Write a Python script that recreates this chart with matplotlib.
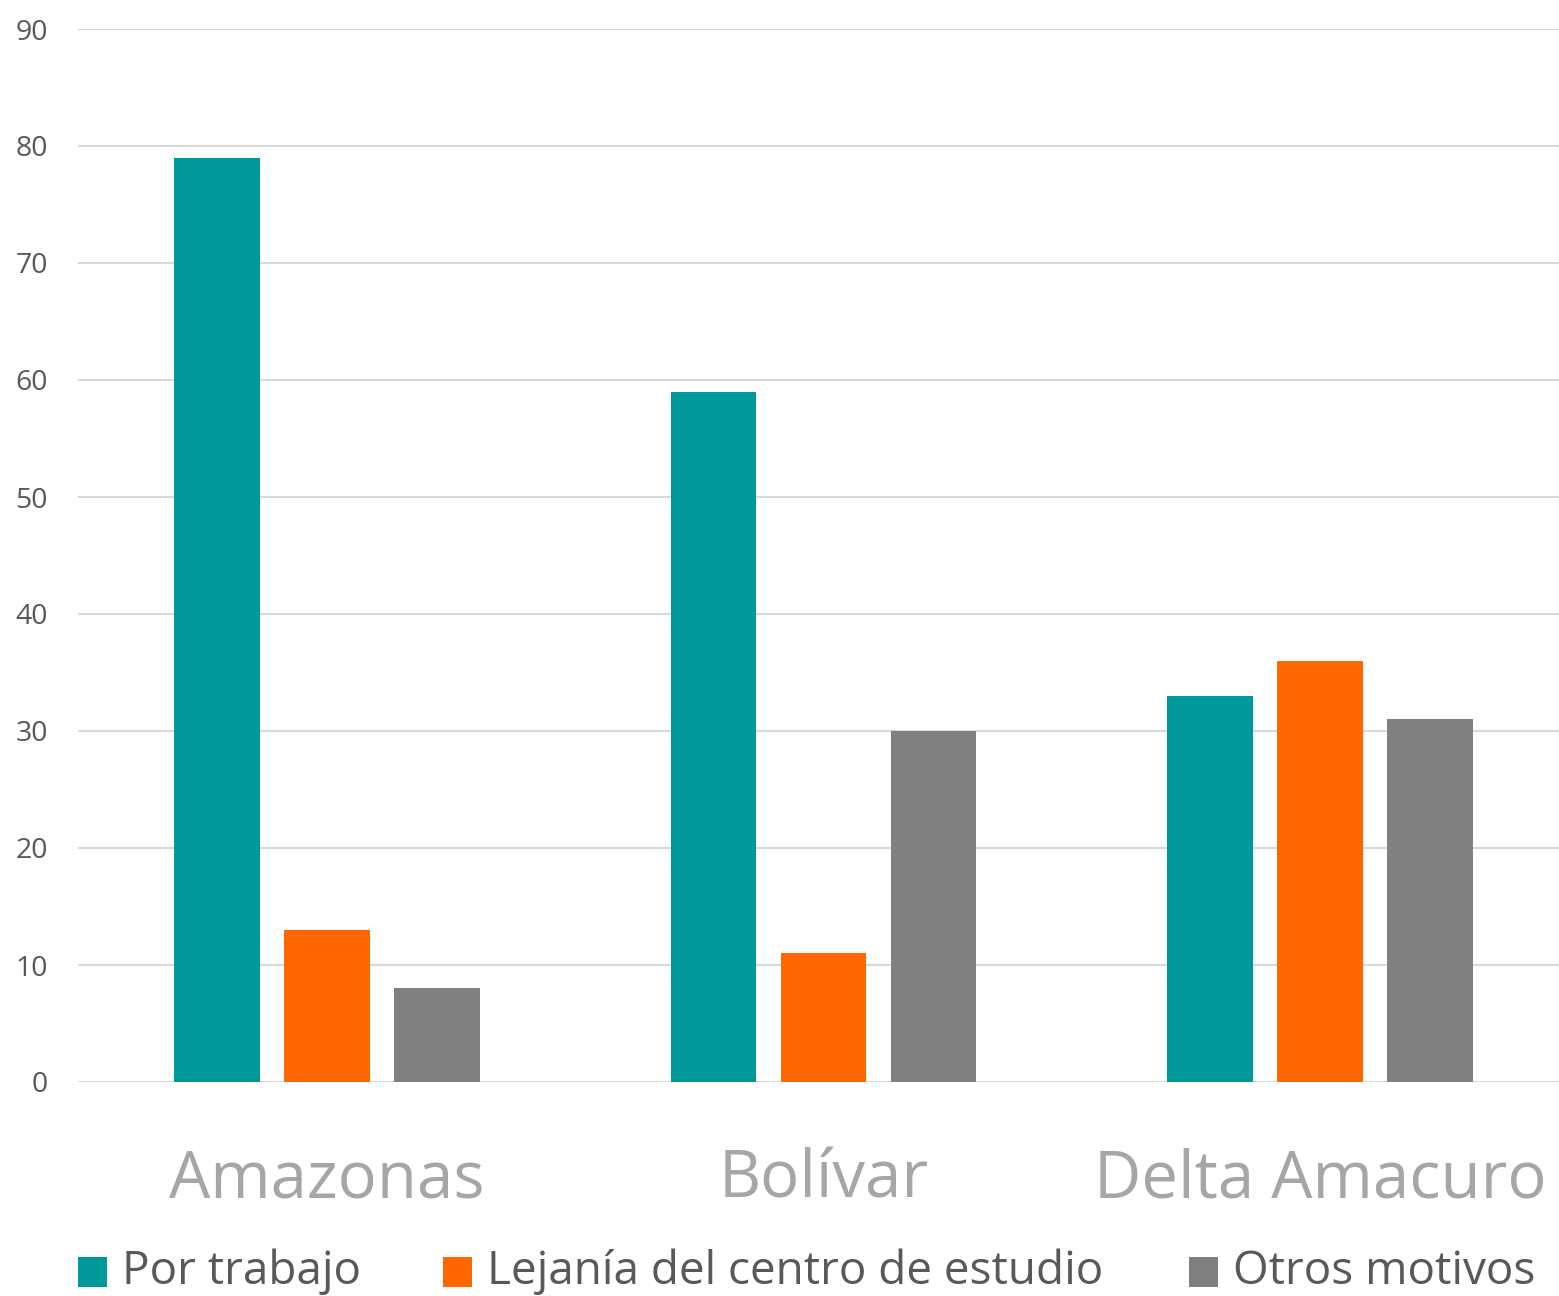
import matplotlib.pyplot as plt
import matplotlib.patches as patches
import numpy as np

# Data
states = ['Amazonas', 'Bolívar', 'Delta Amacuro']
series = ['Por trabajo', 'Lejanía del centro de estudio', 'Otros motivos']
por_trabajo = [79, 59, 33]
lejania = [13, 11, 36]
otros = [8, 30, 31]
yticks = [0, 10, 20, 30, 40, 50, 60, 70, 80, 90]

colors = ['#009999', '#FF6600', '#808080']
values = [por_trabajo, lejania, otros]

plt.rcParams['font.family'] = ['Open Sans', 'DejaVu Sans']

fig = plt.figure(figsize=(15.59, 12.96), dpi=100)
W, H = 1559, 1296
ax = fig.add_axes([78 / W, (H - 1082) / H, 1481 / W, 1053 / H])

x = np.arange(len(states))
bw = 0.173
step = 0.2216
for i, (vals, col) in enumerate(zip(values, colors)):
    ax.bar(x + (i - 1) * step, vals, width=bw, color=col, zorder=3)

ax.set_xlim(-0.5015, 2.4814)
ax.set_ylim(0, 90)
ax.set_yticks(yticks)
ax.set_yticklabels([str(t) for t in yticks], fontsize=20.5, color='#595959')
ax.tick_params(axis='y', length=0, pad=21.5)
ax.set_xticks([])
ax.grid(axis='y', color='#D9D9D9', linewidth=1.5, zorder=0)
for s in ax.spines.values():
    s.set_visible(False)

# category labels
for xi, name in zip(x, states):
    ax.text(xi, -8.4, name, ha='center', va='center', fontsize=47,
            color='#A6A6A6', transform=ax.transData, clip_on=False)

# legend drawn by hand
leg_sq_x = [78, 443, 1189]
for sx, name, col in zip(leg_sq_x, series, colors):
    fig.patches.append(patches.Rectangle((sx / W, (H - 1287) / H), 29 / W, 30 / H,
                                         transform=fig.transFigure,
                                         facecolor=col, edgecolor='none'))
    fig.text((sx + 44) / W, (H - 1272) / H, name, ha='left', va='center',
             fontsize=33, color='#595959')

fig.savefig('out.png', dpi=100, facecolor='white')
